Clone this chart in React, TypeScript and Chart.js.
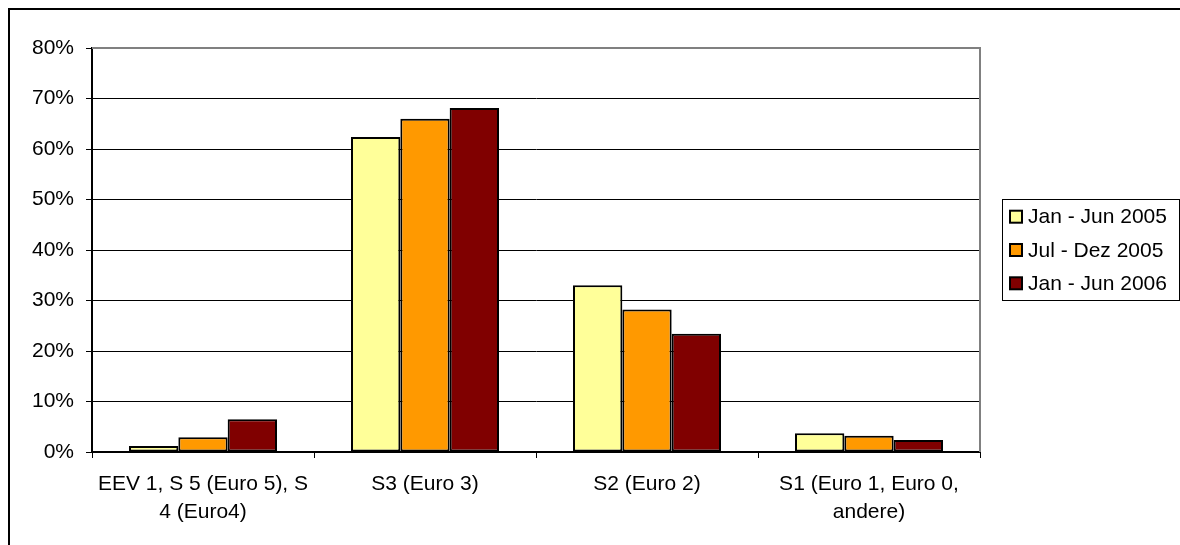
import React, { useEffect, useRef } from "react";
import { Chart, registerables } from "chart.js";

Chart.register(...registerables);

const categories: string[][] = [
  ["EEV 1, S 5 (Euro 5), S", "4 (Euro4)"],
  ["S3 (Euro 3)"],
  ["S2 (Euro 2)"],
  ["S1 (Euro 1, Euro 0,", "andere)"],
];
const seriesLabels = ["Jan - Jun 2005", "Jul - Dez 2005", "Jan - Jun 2006"];
const seriesColors = ["#FFFF99", "#FF9900", "#800000"];
const janJun2005 = [1.2, 62.4, 33.0, 3.7];
const julDez2005 = [2.9, 66.0, 28.2, 3.2];
const janJun2006 = [6.5, 68.1, 23.4, 2.4];
const yTicks = [0, 10, 20, 30, 40, 50, 60, 70, 80];

const FONT = "'Liberation Sans', Arial, sans-serif";

const frameAndLegend = {
  id: "frameAndLegend",
  afterDraw(chart: any) {
    const { ctx, chartArea } = chart;
    ctx.save();
    // plot area top/right border
    ctx.strokeStyle = "#808080";
    ctx.lineWidth = 2;
    ctx.beginPath();
    ctx.moveTo(chartArea.left, chartArea.top);
    ctx.lineTo(chartArea.right, chartArea.top);
    ctx.lineTo(chartArea.right, chartArea.bottom);
    ctx.stroke();

    // legend
    const lx = 992.5, ly = 189.5, lw = 177, lh = 101;
    ctx.strokeStyle = "#000";
    ctx.lineWidth = 1;
    ctx.strokeRect(lx, ly, lw, lh);
    const rowY = [206.7, 240, 273.3];
    ctx.font = `21px ${FONT}`;
    ctx.textBaseline = "middle";
    ctx.textAlign = "left";
    chart.data.datasets.forEach((ds: any, i: number) => {
      const y = rowY[i];
      ctx.fillStyle = ds.backgroundColor;
      ctx.fillRect(1000, y - 6, 12, 12);
      ctx.strokeStyle = "#000";
      ctx.lineWidth = 2;
      ctx.strokeRect(1000, y - 6, 12, 12);
      ctx.fillStyle = "#000";
      ctx.fillText(ds.label, 1018, y + 1);
    });
    ctx.restore();
  },
};

export default function App() {
  const ref = useRef<HTMLCanvasElement>(null);
  useEffect(() => {
    if (!ref.current) return;
    const data = [janJun2005, julDez2005, janJun2006];
    const chart = new Chart(ref.current, {
      type: "bar",
      data: {
        labels: categories,
        datasets: data.map((d, i) => ({
          label: seriesLabels[i],
          data: d,
          backgroundColor: seriesColors[i],
          borderColor: "#000",
          borderWidth: 2,
          borderSkipped: false,
          categoryPercentage: 3 / 4.5,
          barPercentage: 1,
        })),
      },
      options: {
        animation: false,
        responsive: true,
        maintainAspectRatio: false,
        layout: { padding: { top: 38, right: 200, left: 0, bottom: 0 } },
        plugins: { legend: { display: false }, tooltip: { enabled: false } },
        scales: {
          x: {
            grid: {
              display: true,
              drawOnChartArea: false,
              drawTicks: true,
              tickLength: 6,
              color: "#000",
              offset: true,
            },
            border: { display: true, color: "#000", width: 2 },
            ticks: {
              color: "#000",
              font: { family: FONT, size: 21, lineHeight: 1.33 },
              padding: 12,
              maxRotation: 0,
              autoSkip: false,
            },
            afterFit: (s: any) => {
              s.height = 93;
            },
          },
          y: {
            min: 0,
            max: 80,
            afterBuildTicks: (s: any) => {
              s.ticks = yTicks.map((v) => ({ value: v }));
            },
            grid: { color: "#000", lineWidth: 1, tickLength: 6, drawTicks: true },
            border: { display: true, color: "#000", width: 2 },
            ticks: {
              color: "#000",
              font: { family: FONT, size: 21 },
              padding: 12,
              callback: (v: any) => v + "%",
            },
            afterFit: (s: any) => {
              s.width = 82;
            },
          },
        },
      },
      plugins: [frameAndLegend],
    });
    return () => chart.destroy();
  }, []);
  return (
    <div
      style={{
        position: "fixed",
        left: 8,
        top: 8,
        width: 1172,
        height: 537,
        borderLeft: "2px solid #000",
        borderTop: "2px solid #000",
        boxSizing: "border-box",
        background: "#fff",
      }}
    >
      <canvas ref={ref} />
    </div>
  );
}
